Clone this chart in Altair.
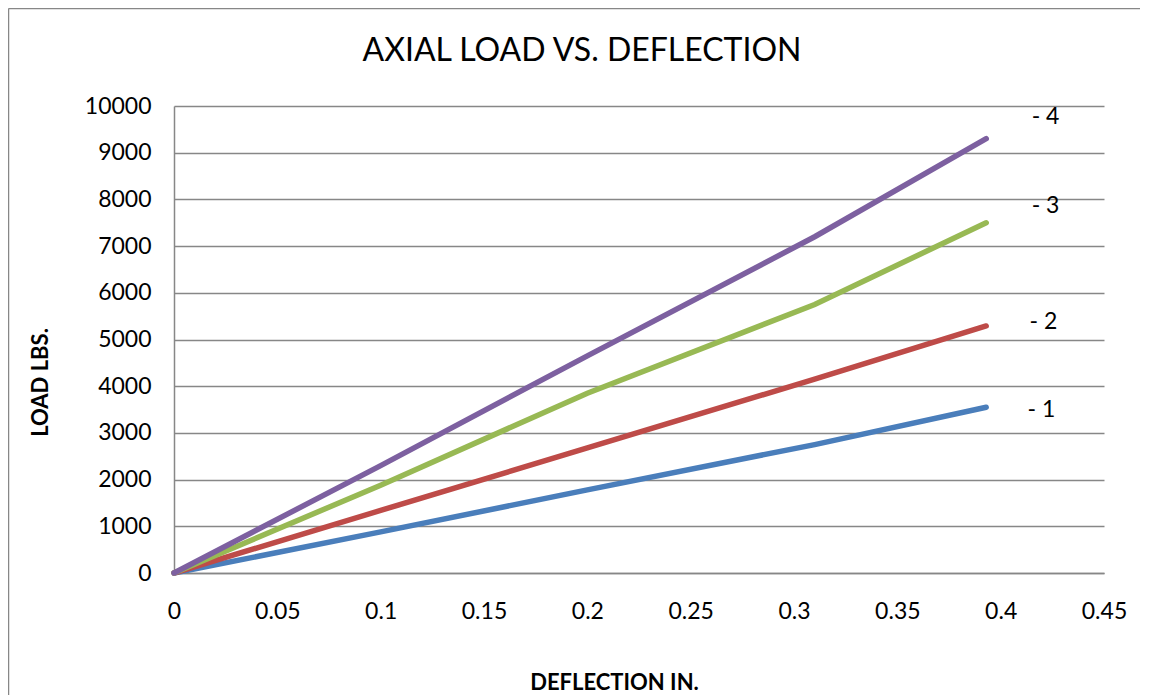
import altair as alt
import pandas as pd

deflection = [0.0, 0.1, 0.2, 0.31, 0.393]
load_1 = [0, 880, 1780, 2750, 3550]
load_2 = [0, 1340, 2680, 4150, 5290]
load_3 = [0, 1880, 3850, 5750, 7500]
load_4 = [0, 2300, 4650, 7200, 9300]

series_names = ["1", "2", "3", "4"]
series_colors = ["#4A7EBB", "#BE4B48", "#98B954", "#7D60A0"]

label_text = ["- 1", "- 2", "- 3", "- 4"]
label_x = [0.413, 0.414, 0.415, 0.415]
label_y = [3490, 5375, 7860, 9760]

x_ticks = [0, 0.05, 0.1, 0.15, 0.2, 0.25, 0.3, 0.35, 0.4, 0.45]
y_ticks = list(range(0, 10001, 1000))

chart_title = "AXIAL LOAD VS. DEFLECTION"

rows = []
for name, vals in zip(series_names, [load_1, load_2, load_3, load_4]):
    for d, v in zip(deflection, vals):
        rows.append({"series": name, "deflection": d, "load": v})
df = pd.DataFrame(rows)
labels_df = pd.DataFrame({"text": label_text, "x": label_x, "y": label_y})

FONT = "Lato"
GRID = "#878787"

W, H = 930, 467
one = pd.DataFrame({"a": [0]})

frame_left = alt.Chart(one).mark_rule(color=GRID, strokeWidth=1.5).encode(
    x=alt.value(-165.5), y=alt.value(-97.5), y2=alt.value(H + 200)
)
frame_top = alt.Chart(one).mark_rule(color=GRID, strokeWidth=1.5).encode(
    x=alt.value(-165.5), x2=alt.value(W + 200), y=alt.value(-97.5)
)

title_mark = alt.Chart(one).mark_text(
    fontSize=32, font=FONT, color="#000000", align="center", baseline="middle"
).encode(x=alt.value(408), y=alt.value(-55), text=alt.value(chart_title))

lines = alt.Chart(df).mark_line(strokeWidth=5.5, strokeCap="round").encode(
    x=alt.X("deflection:Q",
            scale=alt.Scale(domain=[0, 0.45], nice=False),
            axis=alt.Axis(values=x_ticks, format=".2~f", title="DEFLECTION IN.",
                          grid=False, ticks=False, labelPadding=27, labelFlush=False,
                          titleX=440, titleY=109, titleAlign="center",
                          titleBaseline="middle")),
    y=alt.Y("load:Q",
            scale=alt.Scale(domain=[0, 10000], nice=False),
            axis=alt.Axis(values=y_ticks, format="d", title="LOAD LBS.",
                          grid=True, ticks=False, labelPadding=23, labelFlush=False,
                          titleX=-134, titleY=276, titleAlign="center",
                          titleBaseline="middle", titleAngle=-90)),
    color=alt.Color("series:N", scale=alt.Scale(domain=series_names, range=series_colors),
                    legend=None),
    detail="series:N",
)

texts = alt.Chart(labels_df).mark_text(
    align="left", baseline="middle", fontSize=23, font=FONT, color="#000000"
).encode(x="x:Q", y="y:Q", text="text:N")

chart = alt.layer(frame_left, frame_top, title_mark, lines, texts).properties(
    width=W, height=H,
    autosize=alt.AutoSizeParams(type="none"),
    padding={"left": 166, "top": 98, "right": 36, "bottom": 122},
).configure_view(stroke=None).configure_axis(
    domainColor=GRID, domainWidth=1.5, gridColor=GRID, gridWidth=1.5,
    labelFont=FONT, labelFontSize=23, labelColor="#000000",
    titleFont=FONT, titleFontSize=22, titleFontWeight="bold", titleColor="#000000",
).configure_axisX(domain=True).configure_axisY(domain=True)

chart.save("out.html", embed_options={"renderer": "svg", "actions": False})
